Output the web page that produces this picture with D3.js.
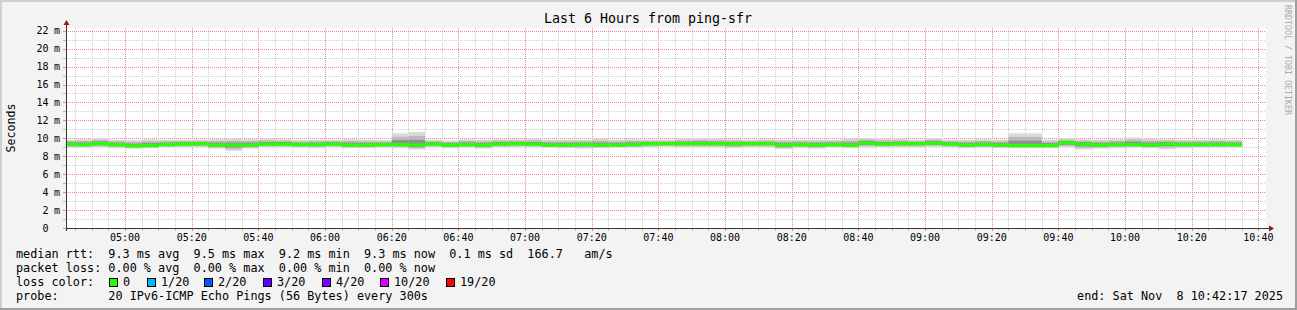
<!DOCTYPE html>
<html>
<head>
<meta charset="utf-8">
<script src="https://cdn.jsdelivr.net/npm/d3@7"></script>
<style>
  body { margin: 0; background: #f3f3f3; }
  svg text { font-family: "DejaVu Sans Mono", monospace; }
</style>
</head>
<body>
<div id="myChart"></div>
<script>
// ----- data (5 minute steps, first step starts 04:40 UTC, values in ms)

var startTime = Date.UTC(2025, 10, 8, 4, 42, 17);
var endTime = Date.UTC(2025, 10, 8, 10, 42, 17);
var firstStep = Date.UTC(2025, 10, 8, 4, 40, 0);
var stepMinutes = 5;

var median = [
  9.35, 9.3, 9.4, 9.3, 9.15, 9.2, 9.3, 9.35, 9.4, 9.25,
  9.25, 9.25, 9.35, 9.35, 9.3, 9.3, 9.35, 9.25, 9.25, 9.3,
  9.3, 9.25, 9.35, 9.25, 9.3, 9.25, 9.35, 9.4, 9.35, 9.25,
  9.25, 9.3, 9.25, 9.25, 9.3, 9.4, 9.4, 9.4, 9.4, 9.4,
  9.4, 9.4, 9.4, 9.25, 9.3, 9.25, 9.3, 9.25, 9.45, 9.35,
  9.4, 9.4, 9.45, 9.35, 9.25, 9.3, 9.25, 9.2, 9.2, 9.2,
  9.5, 9.35, 9.25, 9.3, 9.3, 9.25, 9.35, 9.3, 9.3, 9.3,
  9.3
];
var smokeHi = [
  9.85, 9.9, 10.0, 9.85, 9.8, 9.9, 9.85, 9.85, 9.85, 9.9,
  9.95, 9.9, 9.95, 9.9, 9.8, 9.85, 9.85, 9.9, 9.85, 9.8,
  10.55, 10.7, 9.85, 9.75, 9.9, 9.85, 9.9, 9.9, 9.95, 9.85,
  9.85, 9.85, 9.95, 9.85, 9.9, 9.85, 9.85, 9.95, 10.0, 9.95,
  9.9, 9.85, 9.9, 9.85, 9.85, 9.85, 9.85, 9.95, 10.05, 9.95,
  9.95, 9.85, 10.0, 9.85, 9.85, 9.9, 9.85, 10.55, 10.55, 9.85,
  10.0, 9.9, 9.85, 9.9, 10.1, 9.95, 9.9, 9.85, 9.85, 9.9,
  9.85
];
var smokeLo = [
  8.95, 8.95, 9.0, 8.9, 8.85, 8.9, 9.0, 9.0, 9.0, 8.85,
  8.6, 8.85, 9.0, 9.0, 8.95, 8.9, 9.0, 8.9, 8.9, 8.95,
  8.9, 8.75, 9.0, 8.9, 8.95, 8.85, 9.0, 9.0, 9.0, 8.95,
  8.9, 8.85, 8.9, 8.95, 8.95, 9.0, 9.05, 9.0, 9.0, 9.0,
  8.9, 9.0, 9.0, 8.8, 8.9, 8.85, 8.95, 8.9, 9.0, 9.0,
  9.0, 9.0, 9.05, 9.0, 8.9, 8.95, 8.9, 8.9, 8.9, 8.9,
  9.0, 8.75, 8.85, 8.9, 8.95, 8.9, 8.8, 8.9, 8.95, 8.95,
  8.95
];

var yTicks = [0, 2, 4, 6, 8, 10, 12, 14, 16, 18, 20, 22];
var lossLabels = ['0', '1/20', '2/20', '3/20', '4/20', '10/20', '19/20'];
var lossColors = ['#26ff00', '#00b8ff', '#0059ff', '#5e00ff', '#7e00ff', '#dd00ff', '#ff0000'];
var legendLines = [
  'median rtt:  9.3 ms avg  9.5 ms max  9.2 ms min  9.3 ms now  0.1 ms sd  166.7   am/s',
  'packet loss: 0.00 % avg  0.00 % max  0.00 % min  0.00 % now',
  'loss color:',
  'probe:       20 IPv6-ICMP Echo Pings (56 Bytes) every 300s'
];

// ----- chart

var W = 1297, H = 310;
var plotL = 66, plotR = 1266, plotT = 28, plotB = 228;

var steps = median.map(function(m, i) {
  return {
    t0: new Date(firstStep + i * stepMinutes * 60000),
    t1: new Date(firstStep + (i + 1) * stepMinutes * 60000),
    med: m, hi: smokeHi[i], lo: smokeLo[i]
  };
});

var x = d3.scaleUtc()
  .domain([new Date(startTime), new Date(endTime)])
  .range([plotL, plotR]);

var y = d3.scaleLinear()
  .domain([0, 22.3])
  .range([plotB, plotT]);

var svg = d3.select("#myChart").append("svg")
  .attr("width", W).attr("height", H);

// frame
svg.append("rect").attr("width", W).attr("height", H).attr("fill", "#f3f3f3");
svg.append("path").attr("d", "M0,1H" + W + "M1,0V" + H).attr("stroke", "#cfcfcf").attr("stroke-width", 2);
svg.append("path").attr("d", "M0," + (H - 1) + "H" + W + "M" + (W - 1) + ",0V" + H)
  .attr("stroke", "#9e9e9e").attr("stroke-width", 2);

svg.append("rect")
  .attr("x", plotL).attr("y", plotT)
  .attr("width", plotR - plotL).attr("height", plotB - plotT)
  .attr("fill", "#fff");

// grid: gray dotted every 5 min / 1 ms, pink dotted every 20 min / 2 ms
var g = svg.append("g").attr("shape-rendering", "crispEdges");
var minorT = x.ticks(d3.utcMinute.every(5));
var majorT = x.ticks(d3.utcMinute.every(20));
var minorColor = "#cfcfcf", majorColor = "#e68a8a";

function px(v) { return Math.round(v) + 0.5; }

g.selectAll("line.v").data(minorT).enter().append("line")
  .attr("class", "v")
  .attr("x1", function(d) { return px(x(d)); })
  .attr("x2", function(d) { return px(x(d)); })
  .attr("y1", plotT).attr("y2", plotB)
  .attr("stroke", function(d) { return d.getUTCMinutes() % 20 ? minorColor : majorColor; })
  .attr("stroke-dasharray", "1,1");
g.selectAll("line.h").data(d3.range(1, 23)).enter().append("line")
  .attr("class", "h")
  .attr("x1", plotL).attr("x2", plotR)
  .attr("y1", function(d) { return px(y(d)); })
  .attr("y2", function(d) { return px(y(d)); })
  .attr("stroke", function(d) { return d % 2 ? minorColor : majorColor; })
  .attr("stroke-dasharray", "1,1");

// smoke + median
svg.append("clipPath").attr("id", "clip").append("rect")
  .attr("x", plotL + 1).attr("y", plotT).attr("width", plotR - plotL - 1).attr("height", plotB - plotT);
var data = svg.append("g").attr("clip-path", "url(#clip)");

var shades = [
  { f: 1.0, c: "#d9d9d9" },
  { f: 0.7, c: "#bababa" },
  { f: 0.4, c: "#8f8f8f" }
];
shades.forEach(function(s) {
  data.selectAll(null).data(steps).enter().append("rect")
    .attr("x", function(d) { return x(d.t0); })
    .attr("width", function(d) { return x(d.t1) - x(d.t0); })
    .attr("y", function(d) { return y(d.med + (d.hi - d.med) * s.f); })
    .attr("height", function(d) { return y(d.med - (d.med - d.lo) * s.f) - y(d.med + (d.hi - d.med) * s.f); })
    .attr("fill", s.c);
});
data.selectAll(null).data(steps).enter().append("rect")
  .attr("x", function(d) { return x(d.t0); })
  .attr("width", function(d) { return x(d.t1) - x(d.t0) + 0.5; })
  .attr("y", function(d) { return y(d.med) - 1.6; })
  .attr("height", 3.2)
  .attr("fill", lossColors[0]);

// axes
var axisColor = "#333";
var xAxis = svg.append("g").attr("shape-rendering", "crispEdges");
xAxis.append("line").attr("x1", plotL - 3).attr("x2", plotR + 3)
  .attr("y1", plotB + 0.5).attr("y2", plotB + 0.5).attr("stroke", axisColor);
xAxis.selectAll("line.tk").data(minorT).enter().append("line")
  .attr("class", "tk")
  .attr("x1", function(d) { return px(x(d)); })
  .attr("x2", function(d) { return px(x(d)); })
  .attr("y1", plotB + 1).attr("y2", plotB + 3)
  .attr("stroke", function(d) { return d.getUTCMinutes() % 20 ? "#bbb" : "#e88"; });
svg.selectAll("text.xl").data(majorT).enter().append("text")
  .attr("class", "xl")
  .attr("x", function(d) { return x(d); })
  .attr("y", 241)
  .attr("text-anchor", "middle")
  .attr("font-size", "10px")
  .text(d3.utcFormat("%H:%M"));

var yAxis = svg.append("g").attr("shape-rendering", "crispEdges");
yAxis.append("line").attr("x1", plotL + 0.5).attr("x2", plotL + 0.5)
  .attr("y1", plotB + 3).attr("y2", plotT - 4).attr("stroke", axisColor);
yAxis.selectAll("line.tk").data(d3.range(0, 23)).enter().append("line")
  .attr("class", "tk")
  .attr("x1", plotL - 3).attr("x2", plotL)
  .attr("y1", function(d) { return px(y(d)); })
  .attr("y2", function(d) { return px(y(d)); })
  .attr("stroke", function(d) { return d % 2 ? "#bbb" : "#e88"; });
svg.selectAll("text.yl").data(yTicks).enter().append("text")
  .attr("class", "yl")
  .attr("x", 48.5)
  .attr("y", function(d) { return y(d) + 3.5; })
  .attr("text-anchor", "end")
  .attr("font-size", "10px")
  .text(function(d) { return d; });
svg.selectAll("text.ym").data(yTicks.filter(function(d) { return d > 0; })).enter().append("text")
  .attr("class", "ym")
  .attr("x", 54)
  .attr("y", function(d) { return y(d) + 3.5; })
  .attr("font-size", "10px")
  .text("m");

// arrows
svg.append("path").attr("d", "M" + (plotR + 3) + "," + (plotB - 2.5) + "l5,3l-5,3z").attr("fill", "#8b1a1a");
svg.append("path").attr("d", "M" + (plotL - 2.5) + "," + (plotT - 3) + "l3,-5l3,5z").attr("fill", "#8b1a1a");

// title + labels
svg.append("text").attr("x", 648).attr("y", 23).attr("text-anchor", "middle")
  .attr("font-size", "13.3px").text("Last 6 Hours from ping-sfr");
svg.append("text").attr("transform", "translate(15,128) rotate(-90)")
  .attr("text-anchor", "middle").attr("font-size", "11.6px").text("Seconds");
svg.append("text").attr("transform", "translate(1285,5) rotate(90)")
  .attr("font-size", "8.3px").attr("fill", "#aaaaaa").text("RRDTOOL / TOBI OETIKER");

// legend
svg.selectAll("text.lg").data(legendLines).enter().append("text")
  .attr("class", "lg")
  .attr("x", 16)
  .attr("y", function(d, i) { return 258 + i * 14; })
  .attr("font-size", "11.8px")
  .style("white-space", "pre")
  .text(function(d) { return d; });

var lossX = [109, 147, 204, 263, 322, 380, 446];
var lg = svg.selectAll("g.loss").data(lossLabels).enter().append("g")
  .attr("class", "loss")
  .attr("transform", function(d, i) { return "translate(" + lossX[i] + ",278)"; });
lg.append("rect").attr("x", 0.5).attr("y", 0.5).attr("width", 8).attr("height", 8)
  .attr("fill", function(d, i) { return lossColors[i]; })
  .attr("stroke", "#000");
lg.append("text").attr("x", 14).attr("y", 8)
  .attr("font-size", "11.8px").text(function(d) { return d; });

svg.append("text").attr("x", 1283).attr("y", 300).attr("text-anchor", "end")
  .attr("font-size", "11.8px").style("white-space", "pre")
  .text("end: Sat Nov  8 10:42:17 2025");
</script>
</body>
</html>
